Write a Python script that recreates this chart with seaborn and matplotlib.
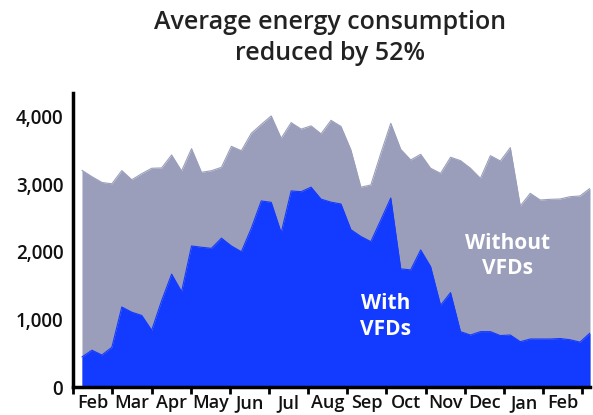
import numpy as np
import pandas as pd
import matplotlib
matplotlib.use("Agg")
import matplotlib.pyplot as plt
import seaborn as sns

# ---- data ----
without_vfds = [3210, 3115, 3030, 3010, 3205, 3070, 3160, 3240, 3245, 3437,
                3200, 3530, 3180, 3204, 3254, 3565, 3500, 3758, 3890, 4015,
                3684, 3916, 3820, 3868, 3750, 3950, 3860, 3511, 2960, 2993,
                3460, 3906, 3521, 3363, 3447, 3240, 3165, 3403, 3353, 3240,
                3091, 3427, 3348, 3545, 2681, 2869, 2770, 2780, 2785, 2819,
                2830, 2943]
with_vfds = [445, 545, 474, 588, 1185, 1108, 1060, 840, 1280, 1672,
             1412, 2089, 2070, 2054, 2205, 2089, 2004, 2351, 2756, 2735,
             2286, 2904, 2893, 2960, 2783, 2738, 2711, 2330, 2230, 2153,
             2474, 2800, 1750, 1735, 2030, 1783, 1210, 1398, 820, 770,
             820, 820, 762, 770, 671, 711, 711, 711, 718, 700,
             665, 800]
months = ["Feb", "Mar", "Apr", "May", "Jun", "Jul", "Aug", "Sep", "Oct",
          "Nov", "Dec", "Jan", "Feb"]
y_ticks = [0, 1000, 2000, 3000, 4000]
title_text = "Average energy consumption\nreduced by 52%"

df = pd.DataFrame({"week": np.arange(len(without_vfds)),
                   "without": without_vfds, "with": with_vfds})

GREY = "#9a9eba"
BLUE = "#133aff"

sns.set_style("white")
plt.rcParams["font.family"] = ["Open Sans", "DejaVu Sans"]

fig = plt.figure(figsize=(5.93, 4.15), dpi=100)
ax = fig.add_axes([73 / 593, 28 / 415, 517 / 593, 294 / 415])

sns.lineplot(data=df, x="week", y="without", ax=ax, color=GREY, linewidth=0.8)
sns.lineplot(data=df, x="week", y="with", ax=ax, color=BLUE, linewidth=0.8)
ax.fill_between(df["week"], 0, df["without"], color=GREY, linewidth=0)
ax.fill_between(df["week"], 0, df["with"], color=BLUE, linewidth=0)

ax.set_xlim(-0.9, 51)
ax.set_ylim(0, 4355)

# month boundaries & labels
step = 3.93
start = -0.87
bounds = [start + step * k for k in range(len(months) + 1)]
centers = [start + step * (k + 0.5) for k in range(len(months))]
ax.set_xticks(bounds, minor=True)
ax.set_xticks(centers)
ax.set_xticklabels(months, fontsize=13, color="#111111", fontweight="semibold")
ax.tick_params(axis="x", which="major", length=0, pad=5)
ax.tick_params(axis="x", which="minor", length=5, width=2, color="black",
               direction="out", bottom=True)

ax.set_yticks(y_ticks)
ax.set_yticklabels([f"{v:,}" for v in y_ticks], fontsize=13.5, color="#111111",
                   fontweight="semibold")
ax.tick_params(axis="y", length=0, pad=7)

for s in ["top", "right"]:
    ax.spines[s].set_visible(False)
for s in ["left", "bottom"]:
    ax.spines[s].set_visible(True)
    ax.spines[s].set_color("black")
    ax.spines[s].set_linewidth(2.5)

ax.set_xlabel("")
ax.set_ylabel("")

fig.text(330 / 593, 1 - 38 / 415, title_text, ha="center", va="center",
         fontsize=18, color="#222222", linespacing=1.35, fontweight="semibold")

ax.text(30.5, 1040, "With\nVFDs", ha="center", va="center", color="white",
        fontsize=15, fontweight="bold", linespacing=1.3)
ax.text(42.7, 1940, "Without\nVFDs", ha="center", va="center", color="white",
        fontsize=15, fontweight="bold", linespacing=1.3)

fig.savefig("out.png", dpi=100)
